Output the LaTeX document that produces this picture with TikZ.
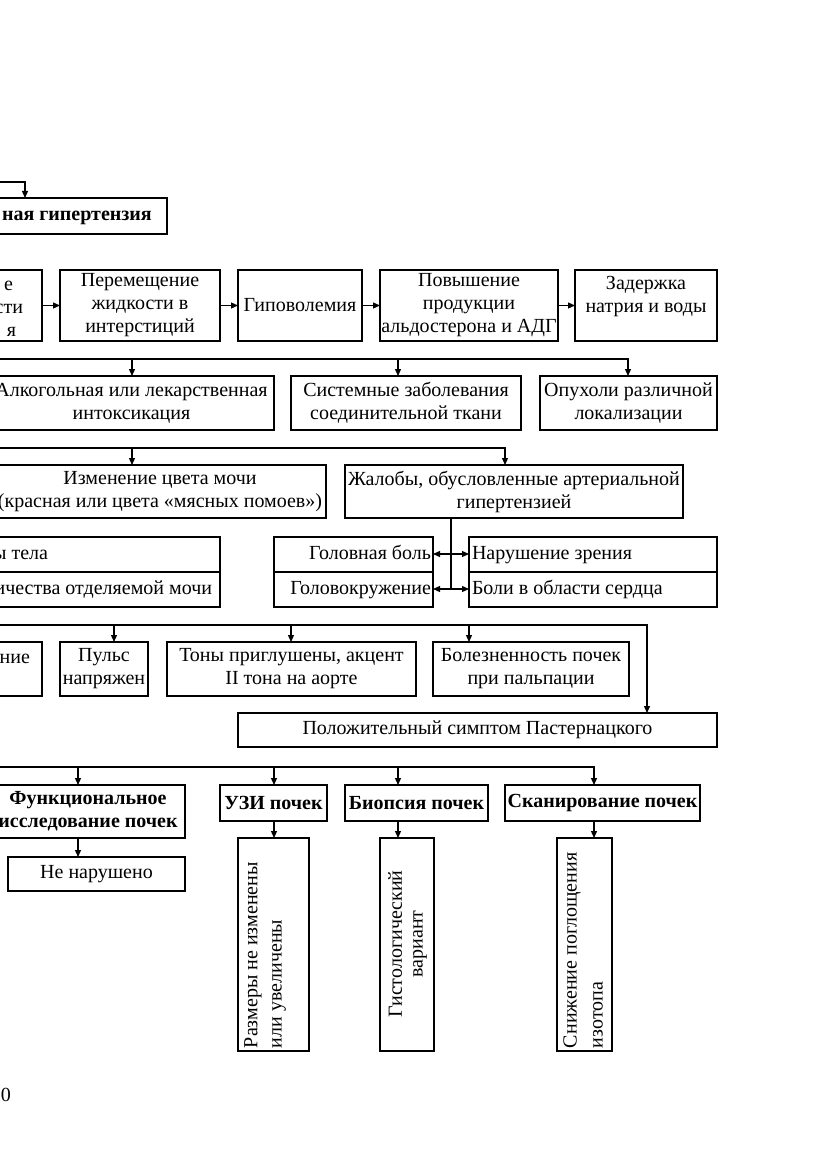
\documentclass[tikz,border=0pt]{standalone}
\usepackage{fontspec}
\setmainfont{Liberation Serif}
\usetikzlibrary{arrows.meta}
\newcommand\fs{\fontsize{20}{23}\selectfont}
\tikzset{
  box/.style={draw, line width=1.2pt, inner sep=0pt, outer sep=0pt, align=center, font=\fs},
  at4/.style n args={4}{minimum width={#3-#1}, minimum height={#4-#2}, at={({(#1+#3)/2},{(#2+#4)/2})}},
  txt/.style={inner sep=0pt, outer sep=0pt, font=\fs},
  ln/.style={line width=1.2pt},
  arr/.style={line width=1.2pt, -{Triangle[length=7pt,width=6pt]}},
  dbl/.style={line width=1.2pt, {Triangle[length=7pt,width=6pt]}-{Triangle[length=7pt,width=6pt]}},
}
\begin{document}
\begin{tikzpicture}[x=1pt,y=-1pt]
\useasboundingbox (0,0) rectangle (831,1174);
\fill[white] (0,0) rectangle (831,1174);
\clip (0,0) rectangle (831,1174);

% top
\node[box, at4={-40}{198}{167}{234}] (top) {};
\node[txt, anchor=base west] (topt) at (2,221) {\bfseries ная гипертензия};
\coordinate (tl) at (0,182);
\coordinate (tr) at (25,182);
\draw[arr] (tl) -- (tr) -- (tr |- top.north);

% row 2
\node[box, at4={-60}{270}{42}{341}] (A) {};
\node[txt, anchor=base east] (A1) at (13,290) {е};
\node[txt, anchor=base east] (A2) at (23,313) {сти};
\node[txt, anchor=base east] (A3) at (16,336) {я};
\node[box, at4={60}{270}{220}{341}] (B) {Перемещение\\жидкости в\\интерстиций};
\node[box, at4={238}{270}{362}{341}] (C) {Гиповолемия};
\node[box, at4={380}{270}{558}{341}] (D) {Повышение\\продукции\\альдостерона и АДГ};
\node[box, at4={575}{270}{717}{341}] (E) {Задержка\\натрия и воды\\\mbox{}};
\draw[arr] (A) -- (B);
\draw[arr] (B) -- (C);
\draw[arr] (C) -- (D);
\draw[arr] (D) -- (E);

% row 3
\node[box, at4={-11}{376}{274}{430}] (F) {Алкогольная или лекарственная\\интоксикация};
\node[box, at4={291}{376}{521}{430}] (G) {Системные заболевания\\соединительной ткани};
\node[box, at4={540}{376}{717}{430}] (H) {Опухоли различной\\локализации};
\coordinate (b3l) at (0,359);
\coordinate (b3a) at (132,359);
\coordinate (b3b) at (398,359);
\coordinate (b3r) at (628,359);
\draw[arr] (b3l) -- (b3r) -- (b3r |- H.north);
\draw[arr] (b3a) -- (b3a |- F.north);
\draw[arr] (b3b) -- (b3b |- G.north);

% row 4
\node[box, at4={-6}{465}{326}{518}] (I) {Изменение цвета мочи\\(красная или цвета «мясных помоев»)};
\node[box, at4={345}{465}{683}{518}] (J) {Жалобы, обусловленные артериальной\\гипертензией};
\coordinate (b4l) at (0,448);
\coordinate (b4a) at (132,448);
\coordinate (b4r) at (505,448);
\draw[arr] (b4l) -- (b4r) -- (b4r |- J.north);
\draw[arr] (b4a) -- (b4a |- I.north);

% row 5
\node[box, at4={-40}{537}{220}{607}] (K) {};
\draw[ln] (K.west) -- (K.east);
\node[txt, anchor=base east] (K1) at (48,559) {ы тела};
\node[txt, anchor=base east] (K2) at (212,594) {ичества отделяемой мочи};
\node[box, at4={274}{537}{433}{607}] (L) {};
\draw[ln] (L.west) -- (L.east);
\node[txt, anchor=base east] (L1) at (431,559) {Головная боль};
\node[txt, anchor=base east] (L2) at (431,594) {Головокружение};
\node[box, at4={469}{537}{717}{607}] (M) {};
\draw[ln] (M.west) -- (M.east);
\node[txt, anchor=base west] (M1) at (472,559) {Нарушение зрения};
\node[txt, anchor=base west] (M2) at (472,594) {Боли в области сердца};
\coordinate (jv) at (451,0);
\coordinate (y1) at (0,554);
\coordinate (y2) at (0,589);
\draw[ln] (J.south -| jv) -- (jv |- y2);
\draw[dbl] (L.east |- y1) -- (M.west |- y1);
\draw[dbl] (L.east |- y2) -- (M.west |- y2);

% row 6
\node[box, at4={-40}{642}{42}{696}] (N) {};
\node[txt, anchor=base east] (N1) at (30,663) {ние};
\node[box, at4={60}{642}{148}{696}] (O) {Пульс\\напряжен};
\node[box, at4={167}{642}{416}{696}] (P) {Тоны приглушены, акцент\\II тона на аорте};
\node[box, at4={433}{642}{629}{696}] (Q) {Болезненность почек\\при пальпации};
\node[box, at4={238}{713}{717}{747}] (R) {Положительный симптом Пастернацкого};
\coordinate (b6l) at (0,625);
\coordinate (b6a) at (114,625);
\coordinate (b6b) at (291,625);
\coordinate (b6c) at (469,625);
\coordinate (b6r) at (647,625);
\draw[arr] (b6l) -- (b6r) -- (b6r |- R.north);
\draw[arr] (b6a) -- (b6a |- O.north);
\draw[arr] (b6b) -- (b6b |- P.north);
\draw[arr] (b6c) -- (b6c |- Q.north);

% row 7
\node[box, at4={-9}{785}{185}{838}, font=\fs\bfseries] (S) {Функциональное\\исследование почек};
\node[box, at4={8}{857}{185}{891}] (T) {Не нарушено};
\node[box, at4={220}{785}{327}{821}, font=\fs\bfseries] (U) {УЗИ почек};
\node[box, at4={238}{838}{309}{1051}] (V) {};
\node[box, at4={345}{785}{488}{821}, font=\fs\bfseries] (W) {Биопсия почек};
\node[box, at4={380}{838}{434}{1051}] (X) {};
\node[box, at4={505}{785}{700}{821}, font=\fs\bfseries] (Y) {Сканирование почек};
\node[box, at4={557}{838}{612}{1051}] (Z) {};
\node[txt, rotate=90, anchor=west] (V1) at (253,1048) {Размеры не изменены};
\node[txt, rotate=90, anchor=west] (V2) at (279,1048) {или увеличены};
\node[txt, rotate=90] (X1) at (395,944) {Гистологический};
\node[txt, rotate=90] (X2) at (420,944) {вариант};
\node[txt, rotate=90, anchor=west] (Z1) at (572,1048) {Снижение поглощения};
\node[txt, rotate=90, anchor=west] (Z2) at (598,1048) {изотопа};
\coordinate (b7l) at (0,767);
\coordinate (b7a) at (78,767);
\coordinate (b7b) at (274,767);
\coordinate (b7c) at (398,767);
\coordinate (b7r) at (594,767);
\draw[arr] (b7l) -- (b7r) -- (b7r |- Y.north);
\draw[arr] (b7a) -- (b7a |- S.north);
\draw[arr] (b7b) -- (b7b |- U.north);
\draw[arr] (b7c) -- (b7c |- W.north);
\draw[arr] (S.south -| b7a) -- (b7a |- T.north);
\draw[arr] (U.south -| b7b) -- (b7b |- V.north);
\draw[arr] (W.south -| b7c) -- (b7c |- X.north);
\draw[arr] (Y.south -| b7r) -- (b7r |- Z.north);

% page number fragment
\node[txt, anchor=base west, font=\fontsize{20}{24}\selectfont] (pg) at (1,1101) {0};
\end{tikzpicture}
\end{document}
